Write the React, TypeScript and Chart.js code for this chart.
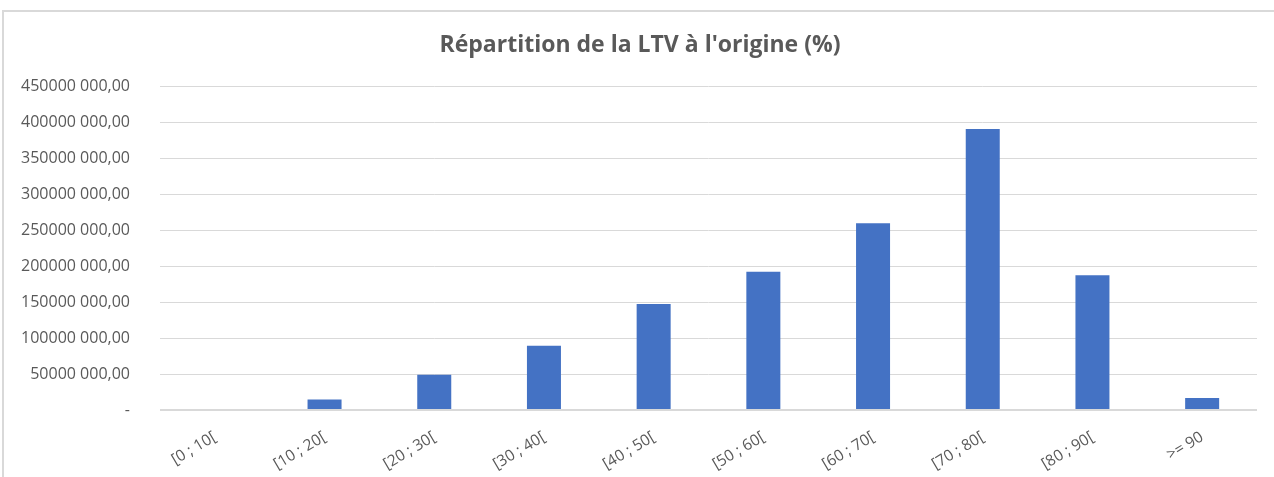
import React, { useEffect, useRef } from "react";
import { Chart, registerables } from "chart.js";

Chart.register(...registerables);

const categories = ["[0 ; 10[", "[10 ; 20[", "[20 ; 30[", "[30 ; 40[", "[40 ; 50[", "[50 ; 60[", "[60 ; 70[", "[70 ; 80[", "[80 ; 90[", ">= 90"];
const values = [0, 14600000, 49000000, 89300000, 147200000, 192000000, 259300000, 390300000, 187000000, 16600000];
const yMax = 450000000;
const yStep = 50000000;
const titleText = "Répartition de la LTV à l'origine (%)";

function formatTick(v: number): string {
  if (v === 0) return "-";
  const thousands = Math.floor(v / 1000);
  const rest = String(Math.round(v % 1000)).padStart(3, "0");
  return thousands + " " + rest + ",00";
}

const titlePlugin = {
  id: "centeredTitle",
  afterDraw(chart: any) {
    const ctx = chart.ctx;
    ctx.save();
    ctx.fillStyle = "#595959";
    ctx.font = "bold 23px 'Open Sans'";
    ctx.textAlign = "center";
    ctx.textBaseline = "middle";
    ctx.fillText(titleText, 640, 45);
    ctx.restore();
  },
};

export default function App() {
  const ref = useRef<HTMLCanvasElement | null>(null);
  useEffect(() => {
    if (!ref.current) return;
    const chart = new Chart(ref.current, {
      type: "bar",
      data: {
        labels: categories,
        datasets: [
          {
            data: values,
            backgroundColor: "#4472C4",
            borderWidth: 0,
            categoryPercentage: 1,
            barPercentage: 0.31,
          },
        ],
      },
      options: {
        animation: false,
        responsive: true,
        maintainAspectRatio: false,
        layout: { padding: { left: 0, right: 17, top: 86, bottom: 0 } },
        plugins: {
          legend: { display: false },
          tooltip: { enabled: false },
          title: { display: false },
        },
        scales: {
          x: {
            grid: { display: false },
            border: { display: false },
            ticks: {
              color: "#595959",
              font: { family: "'Open Sans'", size: 15.5 },
              minRotation: 31,
              maxRotation: 31,
              padding: 10,
              autoSkip: false,
            },
            afterFit: (s: any) => {
              s.height = 67;
            },
          },
          y: {
            min: 0,
            max: yMax,
            border: { display: false },
            grid: {
              color: "#d9d9d9",
              lineWidth: (c: any) => (c.tick && c.tick.value === 0 ? 2 : 1),
              drawTicks: false,
            },
            ticks: {
              stepSize: yStep,
              color: "#595959",
              font: { family: "'Open Sans'", size: 16 },
              padding: 30,
              callback: (v: any) => formatTick(Number(v)),
            },
            afterFit: (s: any) => {
              s.width = 160;
            },
          },
        },
      },
      plugins: [titlePlugin],
    });
    return () => chart.destroy();
  }, []);
  return (
    <div style={{ position: "fixed", left: 0, top: 0, width: 1274, height: 477, background: "#fff" }}>
      <div
        style={{
          position: "absolute",
          left: 2,
          top: 10,
          right: 0,
          bottom: 0,
          borderTop: "2px solid #d9d9d9",
          borderLeft: "2px solid #d9d9d9",
        }}
      />
      <canvas ref={ref} style={{ position: "absolute", left: 0, top: 0 }} />
    </div>
  );
}
